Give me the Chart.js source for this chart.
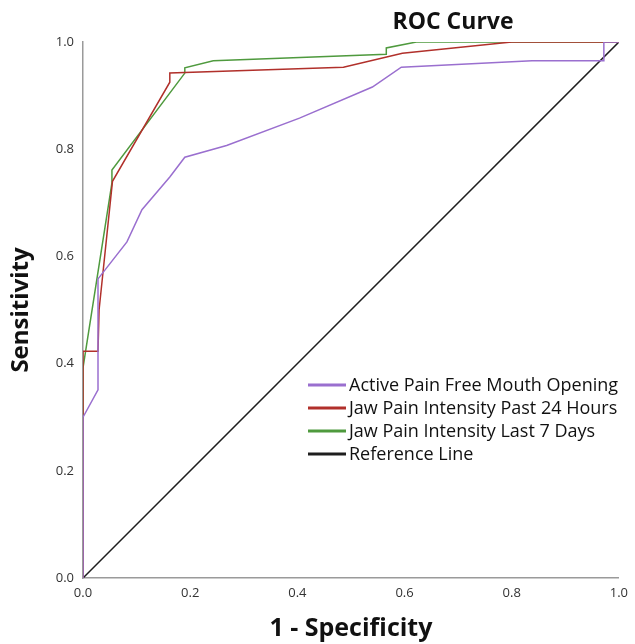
<!DOCTYPE html>
<html>
<head>
<meta charset="utf-8">
<script src="https://cdn.jsdelivr.net/npm/chart.js@4/dist/chart.umd.min.js"></script>
<style>
  html, body { margin: 0; padding: 0; background: #fff; }
  #wrap { width: 635px; height: 644px; position: relative; }
</style>
</head>
<body>
<div id="wrap"><canvas id="roc"></canvas></div>
<script>
// ROC points: [1 - specificity, sensitivity]
const mouthOpeningX = [0, 0, 0.028, 0.028, 0.082, 0.11, 0.162, 0.19, 0.268, 0.404, 0.54, 0.594, 0.838, 0.972, 0.972, 1];
const mouthOpeningY = [0, 0.30, 0.351, 0.558, 0.627, 0.687, 0.748, 0.785, 0.807, 0.858, 0.916, 0.953, 0.965, 0.965, 1, 1];

const pain24hX = [0, 0, 0.028, 0.03, 0.055, 0.162, 0.162, 0.486, 0.596, 0.80, 1];
const pain24hY = [0, 0.423, 0.423, 0.50, 0.74, 0.925, 0.942, 0.953, 0.979, 1, 1];

const pain7dX = [0, 0, 0.054, 0.054, 0.19, 0.19, 0.243, 0.566, 0.566, 0.622, 1];
const pain7dY = [0, 0.392, 0.737, 0.761, 0.942, 0.952, 0.965, 0.977, 0.989, 1, 1];

const refX = [0, 1];
const refY = [0, 1];

const seriesLabels = [
  "Active Pain Free Mouth Opening",
  "Jaw Pain Intensity Past 24 Hours",
  "Jaw Pain Intensity Last 7 Days",
  "Reference Line"
];
const seriesColors = ["#9a6fcf", "#b1302b", "#4f9a3e", "#1e1e1e"];
const tickValues = [0, 0.2, 0.4, 0.6, 0.8, 1.0];

function toPoints(xs, ys) {
  return xs.map((x, i) => ({ x: x, y: ys[i] }));
}

const allSeries = [
  toPoints(mouthOpeningX, mouthOpeningY),
  toPoints(pain24hX, pain24hY),
  toPoints(pain7dX, pain7dY),
  toPoints(refX, refY)
];

// title and in-plot legend like the SPSS output
const decorations = {
  id: "decorations",
  afterDraw(chart) {
    const ctx = chart.ctx;
    ctx.save();
    ctx.fillStyle = "#111";
    ctx.font = "bold 23px 'Open Sans', sans-serif";
    ctx.textAlign = "center";
    ctx.textBaseline = "middle";
    ctx.fillText("ROC Curve", 453, 22);

    ctx.font = "18px 'Open Sans', sans-serif";
    ctx.textAlign = "left";
    chart.data.datasets.forEach((ds, i) => {
      const y = 385 + i * 23;
      ctx.strokeStyle = ds.borderColor;
      ctx.lineWidth = 3;
      ctx.beginPath();
      ctx.moveTo(308, y);
      ctx.lineTo(346, y);
      ctx.stroke();
      ctx.fillStyle = "#111";
      ctx.fillText(ds.label, 349, y + 1);
    });
    ctx.restore();
  }
};

new Chart(document.getElementById("roc"), {
  type: "scatter",
  data: {
    datasets: allSeries.map((pts, i) => ({
      label: seriesLabels[i],
      data: pts,
      showLine: true,
      borderColor: seriesColors[i],
      backgroundColor: seriesColors[i],
      borderWidth: 1.5,
      pointRadius: 0,
      tension: 0
    }))
  },
  options: {
    responsive: true,
    maintainAspectRatio: false,
    animation: false,
    layout: { padding: { top: 42, right: 15, left: 0, bottom: 0 } },
    plugins: {
      legend: { display: false },
      tooltip: { enabled: false }
    },
    scales: {
      x: {
        type: "linear",
        min: 0,
        max: 1,
        afterBuildTicks: (s) => { s.ticks = tickValues.map(v => ({ value: v })); },
        afterFit: (s) => { s.height = 66; },
        grid: { display: false, drawTicks: false },
        border: { color: "#9a9a9a", width: 1.5 },
        ticks: {
          padding: 7,
          color: "#333",
          font: { size: 13, family: "'Open Sans', sans-serif" },
          callback: (v) => v.toFixed(1)
        },
        title: {
          display: true,
          text: "1 - Specificity",
          color: "#111",
          font: { size: 25, weight: "bold", family: "'Open Sans', sans-serif" },
          padding: { top: 0, bottom: 0 }
        }
      },
      y: {
        type: "linear",
        min: 0,
        max: 1,
        afterBuildTicks: (s) => { s.ticks = tickValues.map(v => ({ value: v })); },
        afterFit: (s) => { s.width = 83; },
        grid: { display: false, drawTicks: false },
        border: { color: "#9a9a9a", width: 1.5 },
        ticks: {
          padding: 9,
          color: "#333",
          font: { size: 13, family: "'Open Sans', sans-serif" },
          callback: (v) => v.toFixed(1)
        },
        title: {
          display: true,
          text: "Sensitivity",
          color: "#111",
          font: { size: 24, weight: "bold", family: "'Open Sans', sans-serif" },
          padding: { top: 7, bottom: 0 }
        }
      }
    }
  },
  plugins: [decorations]
});
</script>
</body>
</html>
